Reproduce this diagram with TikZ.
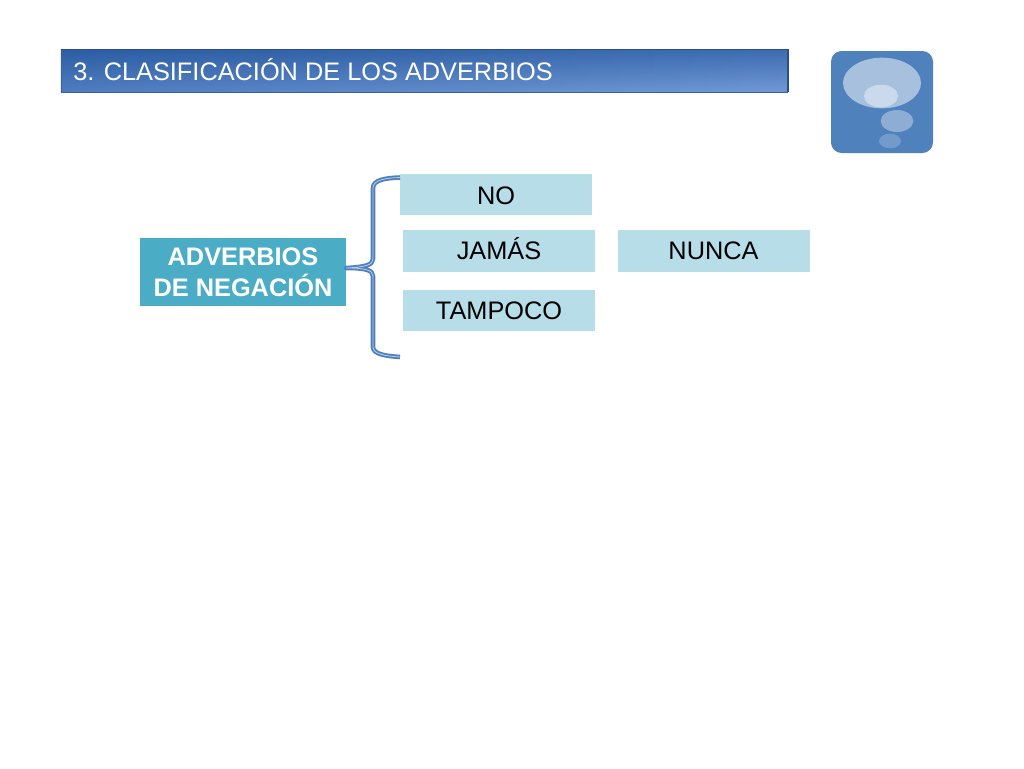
\documentclass[tikz,border=0pt]{standalone}
\usepackage{fontspec}
\setmainfont{Liberation Sans}
\usetikzlibrary{calc,shapes.geometric,shadings}
\definecolor{barDark}{HTML}{2C5DA3}
\definecolor{barMid}{HTML}{4F7DBF}
\definecolor{barR}{HTML}{7199D6}
\definecolor{barEdge}{HTML}{2A4F82}
\definecolor{icon}{HTML}{4F81BD}
\definecolor{light}{HTML}{B7DDE8}
\definecolor{teal}{HTML}{4BACC6}
\tikzset{
  wordbox/.style={fill=light,minimum width=144pt,minimum height=31pt,inner sep=0pt,text=black,text height=13pt,text depth=0pt,font=\fontsize{19}{22}\selectfont},
  headbox/.style={fill=teal,minimum width=154.5pt,minimum height=51pt,inner sep=0pt,text=white,align=center,font=\fontsize{19}{23.5}\selectfont\bfseries},
  bracestyle/.style={draw=icon,line width=1.4pt,double=icon!40!white,double distance=0.6pt,line join=round},
  bubble/.style={draw=none,ellipse,inner sep=0pt}
}
\begin{document}
\begin{tikzpicture}[x=0.75pt,y=-0.75pt]
\useasboundingbox (0,0) rectangle (1024,768);
\fill[white] (0,0) rectangle (1024,768);
% title bar
\node[minimum width=545pt,minimum height=31.5pt,inner sep=0pt] (title) at (424.5,71) {};
\shade[lower left=barMid,upper left=barDark,upper right=barDark!75!barR,lower right=barR] (title.south west) rectangle (title.north east);
\draw[barEdge,line width=1pt] (title.north west) -- (title.north east) -- (title.south east);
\draw[barEdge!60!barMid,line width=0.5pt] (title.north west) -- (title.south west) -- (title.south east);
\node[anchor=west,inner sep=0pt,text=white,font=\fontsize{19}{22}\selectfont] (titletext) at (73,69.5) {3. CLASIFICACIÓN DE LOS ADVERBIOS};
% icon
\node[fill=icon,rounded corners=8pt,minimum width=76.5pt,minimum height=76.5pt,inner sep=0pt] (iconbox) at (882,102) {};
\node[bubble,fill=white!50!icon,minimum width=58.5pt,minimum height=38pt] (b1) at (882,83) {};
\node[bubble,fill=white!70!icon,minimum width=25.5pt,minimum height=17pt] (b2) at (881,96) {};
\node[bubble,fill=white!35!icon,minimum width=24.5pt,minimum height=16.5pt] (b3) at (897,121) {};
\node[bubble,fill=white!20!icon,minimum width=16.5pt,minimum height=11pt] (b4) at (890,141) {};
% boxes
\node[fill=teal,minimum width=154.5pt,minimum height=51pt,inner sep=0pt] (advbox) at (243,272) {};
\node[headbox,fill=none,minimum height=0pt,minimum width=0pt] (adv) at (243,272.5) {ADVERBIOS\\DE NEGACIÓN};
\node[wordbox] (no) at (496,194.5) {\raisebox{-0.7pt}{NO}};
\node[wordbox] (jamas) at (499,251) {JAMÁS};
\node[wordbox] (nunca) at (713.5,251) {NUNCA};
\node[wordbox] (tampoco) at (499,310.5) {TAMPOCO};
% brace
\coordinate (braceTop) at (400,177.5);
\coordinate (braceBot) at (400,357);
\draw[bracestyle] (braceTop) .. controls (385,178) and (373,180) .. (373,188)
  -- (373,259) .. controls (373,265) and (365,267) .. ($(advbox.east)+(0,-4)$)
  .. controls (365,268) and (373,270) .. (373,276)
  -- (373,347) .. controls (373,354) and (385,356) .. (braceBot);
\end{tikzpicture}
\end{document}
